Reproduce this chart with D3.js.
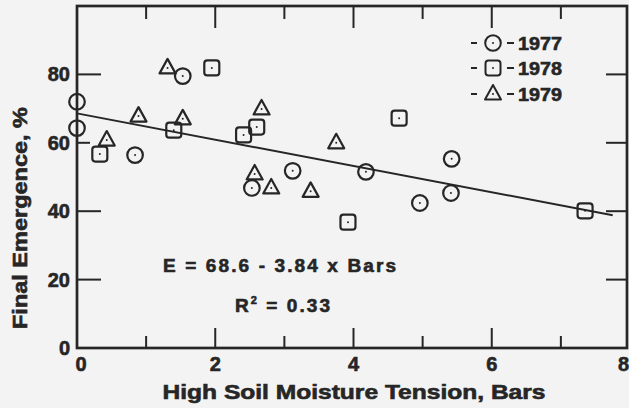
<!DOCTYPE html>
<html><head><meta charset="utf-8">
<script src="https://cdn.jsdelivr.net/npm/d3@7"></script>
<style>
body{margin:0;background:#f3f3f3}
svg{display:block}
text{font-family:"Liberation Sans",Arial,sans-serif;font-weight:bold;fill:#262626;stroke:#262626;stroke-width:0.6px}
</style>
</head><body>
<svg id="c" width="629" height="408"></svg>
<script>
// ---- data ----
const xTicks = [0, 2, 4, 6, 8];
const xMinorTicks = [1, 3, 5, 7];
const yTicks = [0, 20, 40, 60, 80];
const years = ["1977", "1978", "1979"];
const shapes = ["circle", "square", "triangle"];

const bars1977 = [0.0, 0.0, 0.84, 1.53, 2.53, 3.12, 4.18, 4.96, 5.42, 5.41];
const emerg1977 = [72.0, 64.3, 56.4, 79.5, 46.8, 51.8, 51.5, 42.4, 55.3, 45.3];

const bars1978 = [0.33, 1.95, 1.40, 2.41, 2.60, 4.66, 3.92, 7.35];
const emerg1978 = [56.7, 81.9, 63.7, 62.3, 64.6, 67.2, 36.8, 40.1];

const bars1979 = [1.31, 0.89, 0.43, 1.53, 2.67, 2.57, 2.81, 3.38, 3.75];
const emerg1979 = [81.9, 67.8, 60.8, 67.0, 69.9, 50.9, 46.8, 45.8, 60.0];

const fitIntercept = 68.6, fitSlope = -3.84, fitXmax = 7.75;
const equationText = "E = 68.6 - 3.84 x Bars";
const rText = "0.33";

const xTitle = "High Soil Moisture Tension, Bars";
const yTitle = "Final Emergence, %";

// ---- drawing ----
const ink = "#262626";
const svg = d3.select("#c");
const x = d3.scaleLinear().domain([0, 8]).range([77, 630]);
const y = d3.scaleLinear().domain([0, 100]).range([348, 6]);
const frameRight = 627;

const g = svg.append("g");

// frame
g.append("rect").attr("x", x(0)).attr("y", y(100))
  .attr("width", frameRight - x(0)).attr("height", y(0) - y(100))
  .attr("fill", "none").attr("stroke", ink).attr("stroke-width", 2.7);

// ticks (inward)
const tk = g.append("g").attr("stroke", ink).attr("stroke-width", 2);
xTicks.slice(1, 4).forEach(v => {
  tk.append("line").attr("x1", x(v)).attr("x2", x(v)).attr("y1", y(0)).attr("y2", y(0) - 20);
  tk.append("line").attr("x1", x(v)).attr("x2", x(v)).attr("y1", y(100)).attr("y2", y(100) + 22);
});
xMinorTicks.forEach(v => {
  tk.append("line").attr("x1", x(v)).attr("x2", x(v)).attr("y1", y(0)).attr("y2", y(0) - 12);
  tk.append("line").attr("x1", x(v)).attr("x2", x(v)).attr("y1", y(100)).attr("y2", y(100) + 13);
});
yTicks.slice(1).forEach(v => {
  tk.append("line").attr("x1", x(0)).attr("x2", x(0) + (v === 60 ? 13 : 24)).attr("y1", y(v)).attr("y2", y(v));
  tk.append("line").attr("x1", frameRight).attr("x2", frameRight - 21).attr("y1", y(v)).attr("y2", y(v));
});

// tick labels
g.selectAll(".yl").data(yTicks).join("text").attr("class", "yl")
  .attr("x", 70).attr("y", d => y(d) + 7).attr("text-anchor", "end")
  .attr("font-size", 20).text(d => d);
g.selectAll(".xl").data(xTicks).join("text").attr("class", "xl")
  .attr("x", d => x(d) + (d === 0 ? 4 : 0)).attr("y", 371)
  .attr("text-anchor", d => d === 8 ? "end" : "middle")
  .attr("dx", d => d === 8 ? -1 : 0)
  .attr("font-size", 20).text(d => d);

// axis titles
g.append("text").attr("x", 354).attr("y", 399).attr("text-anchor", "middle")
  .attr("font-size", 20).attr("textLength", 383).attr("lengthAdjust", "spacingAndGlyphs")
  .text(xTitle);
g.append("text").attr("transform", "translate(27,218) rotate(-90)").attr("text-anchor", "middle")
  .attr("font-size", 20).attr("textLength", 222).attr("lengthAdjust", "spacingAndGlyphs")
  .text(yTitle);

// regression line
g.append("line").attr("x1", x(0)).attr("y1", y(fitIntercept))
  .attr("x2", x(fitXmax)).attr("y2", y(fitIntercept + fitSlope * fitXmax))
  .attr("stroke", ink).attr("stroke-width", 2);

// markers
function marker(sel, shape) {
  if (shape === "circle") {
    sel.append("circle").attr("r", 7.8);
  } else if (shape === "square") {
    sel.append("rect").attr("x", -7.5).attr("y", -7.5).attr("width", 15).attr("height", 15).attr("rx", 3);
  } else {
    sel.append("path").attr("d", "M0,-9 L8,5.5 L-8,5.5 Z").attr("stroke-linejoin", "round");
  }
  sel.append("circle").attr("r", 1).attr("fill", ink).attr("stroke", "none");
}
const series = [
  {xs: bars1977, ys: emerg1977, shape: shapes[0]},
  {xs: bars1978, ys: emerg1978, shape: shapes[1]},
  {xs: bars1979, ys: emerg1979, shape: shapes[2]}
];
series.forEach(s => {
  s.xs.forEach((bx, i) => {
    const m = g.append("g").attr("transform", `translate(${x(bx)},${y(s.ys[i])})`)
      .attr("fill", "none").attr("stroke", ink).attr("stroke-width", 2.2);
    marker(m, s.shape);
  });
});

// legend
const legY = [43, 68, 94];
years.forEach((yr, i) => {
  const lg = g.append("g").attr("transform", `translate(0,${legY[i]})`);
  lg.append("line").attr("x1", 471).attr("x2", 477).attr("y1", 0).attr("y2", 0).attr("stroke", ink).attr("stroke-width", 2);
  lg.append("line").attr("x1", 507).attr("x2", 514).attr("y1", 0).attr("y2", 0).attr("stroke", ink).attr("stroke-width", 2);
  const m = lg.append("g").attr("transform", "translate(493,0)")
    .attr("fill", "none").attr("stroke", ink).attr("stroke-width", 2);
  marker(m, shapes[i]);
  lg.append("text").attr("x", 518).attr("y", 7).attr("font-size", 19)
    .attr("textLength", 44).attr("lengthAdjust", "spacingAndGlyphs").text(yr);
});

// annotations
g.append("text").attr("x", 163).attr("y", 272).attr("font-size", 19)
  .attr("textLength", 233).attr("lengthAdjust", "spacing")
  .attr("style", "white-space:pre").text(equationText);
const r = g.append("text").attr("x", 235).attr("y", 312).attr("font-size", 19)
  .attr("textLength", 95).attr("lengthAdjust", "spacing");
r.append("tspan").text("R");
r.append("tspan").attr("font-size", 11).attr("dy", -8).text("2");
r.append("tspan").attr("dy", 8).text(" = " + rText);
</script>
</body></html>
